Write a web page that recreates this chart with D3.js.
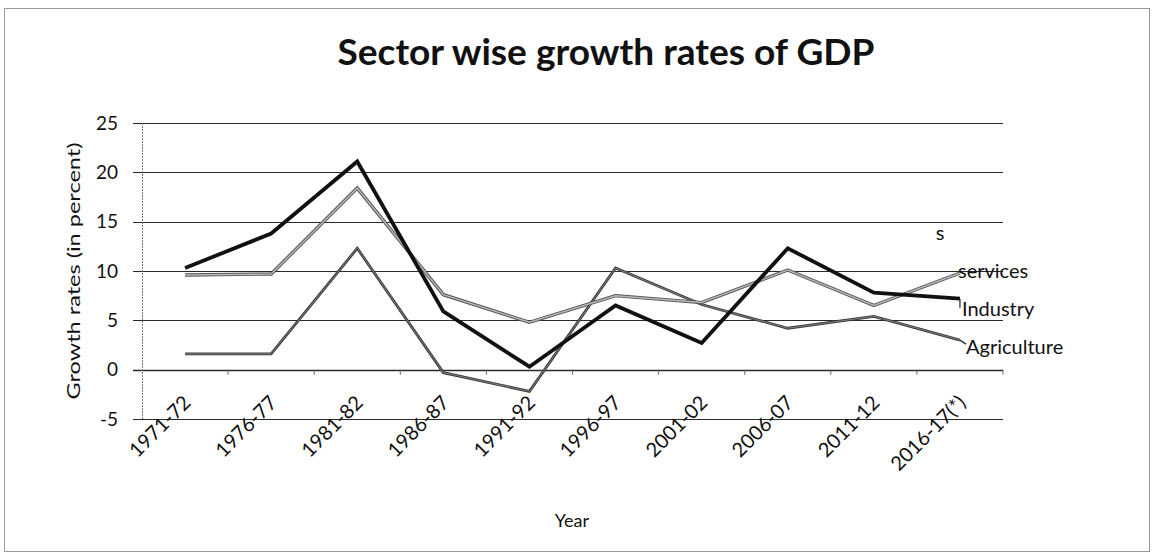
<!DOCTYPE html>
<html>
<head>
<meta charset="utf-8">
<script src="https://cdn.jsdelivr.net/npm/d3@7"></script>
<style>
  html, body { margin: 0; padding: 0; background: #fff; }
  svg { display: block; }
  text { font-family: Lato, "Open Sans", sans-serif; fill: #111; }
</style>
</head>
<body>
<svg id="chart" width="1154" height="554"></svg>
<script>
const categories = ["1971-72","1976-77","1981-82","1986-87","1991-92","1996-97","2001-02","2006-07","2011-12","2016-17(*)"];
const industry    = [10.3, 13.8, 21.1, 5.9, 0.3, 6.5, 2.7, 12.3, 7.8, 7.2];
const services    = [9.6, 9.7, 18.4, 7.6, 4.8, 7.5, 6.8, 10.1, 6.5, 9.8];
const agriculture = [1.6, 1.6, 12.3, -0.3, -2.2, 10.3, 6.6, 4.2, 5.4, 3.0];
const yTicks = [-5, 0, 5, 10, 15, 20, 25];
const seriesNames = ["services", "Industry", "Agriculture"];

const svg = d3.select("#chart");

// outer border
svg.append("rect").attr("x", 4.5).attr("y", 8.5).attr("width", 1145).attr("height", 543)
  .attr("fill", "none").attr("stroke", "#999").attr("stroke-width", 1);

const x = d3.scaleBand().domain(categories).range([142, 1003]).paddingInner(0).paddingOuter(0);
const y = d3.scaleLinear().domain([-5, 25]).range([419, 123]);
const cx = c => x(c) + x.bandwidth() / 2;

// title
svg.append("text").attr("x", 606).attr("y", 65).attr("text-anchor", "middle")
  .attr("font-size", 36).attr("font-weight", "bold")
  .attr("textLength", 537).attr("lengthAdjust", "spacingAndGlyphs")
  .text("Sector wise growth rates of GDP");

// gridlines
svg.append("g").selectAll("line").data(yTicks).join("line")
  .attr("x1", 133).attr("x2", 1003)
  .attr("y1", d => Math.round(y(d)) + 0.5).attr("y2", d => Math.round(y(d)) + 0.5)
  .attr("stroke", "#2a2a2a").attr("stroke-width", d => d === 0 ? 1.6 : 1);

// vertical axis line
svg.append("line").attr("x1", 142.5).attr("x2", 142.5).attr("y1", y(25)).attr("y2", y(-5))
  .attr("stroke", "#777").attr("stroke-width", 1).attr("stroke-dasharray", "2,1");

// y tick labels
svg.append("g").selectAll("text").data(yTicks).join("text")
  .attr("x", 118).attr("y", d => y(d)).attr("dy", "0.35em").attr("text-anchor", "end")
  .attr("font-size", 19).text(d => d);

// y title
svg.append("text").attr("transform", "translate(80,271) rotate(-90)")
  .attr("text-anchor", "middle").attr("font-size", 18)
  .attr("textLength", 257).attr("lengthAdjust", "spacingAndGlyphs")
  .text("Growth rates (in percent)");

// x category ticks on the zero line
const boundaries = categories.map(c => x(c)).concat([x(categories[categories.length - 1]) + x.bandwidth()]);
svg.append("g").selectAll("line").data(boundaries.slice(1)).join("line")
  .attr("x1", d => d).attr("x2", d => d).attr("y1", y(0)).attr("y2", y(0) + 5)
  .attr("stroke", "#666").attr("stroke-width", 1);

// x tick labels (rotated)
svg.append("g").selectAll("text").data(categories).join("text")
  .attr("transform", c => `translate(${cx(c) + 7},${404}) rotate(-45)`)
  .attr("text-anchor", "end").attr("font-size", 20)
  .text(c => c);

// x title
svg.append("text").attr("x", 572).attr("y", 527).attr("text-anchor", "middle")
  .attr("font-size", 18).text("Year");

const line = d3.line().x((d, i) => cx(categories[i])).y(d => y(d));

// agriculture
svg.append("path").datum(agriculture).attr("d", line).attr("fill", "none")
  .attr("stroke", "#3a3a3a").attr("stroke-width", 2.8).attr("stroke-linejoin", "miter");
svg.append("path").datum(agriculture).attr("d", line).attr("fill", "none")
  .attr("stroke", "#888").attr("stroke-width", 0.9);

// services
svg.append("path").datum(services).attr("d", line).attr("fill", "none")
  .attr("stroke", "#555").attr("stroke-width", 3.4);
svg.append("path").datum(services).attr("d", line).attr("fill", "none")
  .attr("stroke", "#b8b8b8").attr("stroke-width", 1.5);

// industry
svg.append("path").datum(industry).attr("d", line).attr("fill", "none")
  .attr("stroke", "#111").attr("stroke-width", 3.8).attr("stroke-linejoin", "miter");

// end labels
const lastX = cx(categories[categories.length - 1]);
const last = i => [services, industry, agriculture][i][categories.length - 1];
// leaders
svg.append("line").attr("x1", lastX).attr("x2", lastX)
  .attr("y1", y(last(1))).attr("y2", y(last(1)) + 9)
  .attr("stroke", "#222").attr("stroke-width", 1.2);
svg.append("line").attr("x1", lastX).attr("x2", lastX + 6)
  .attr("y1", y(last(2))).attr("y2", y(last(2)) + 4)
  .attr("stroke", "#333").attr("stroke-width", 1.5);

const labelPos = [[958, y(last(0)) - 2], [962, y(last(1)) + 10], [966, y(last(2)) + 7]];
svg.append("g").selectAll("text").data(seriesNames).join("text")
  .attr("x", (d, i) => labelPos[i][0]).attr("y", (d, i) => labelPos[i][1])
  .attr("dy", "0.35em").attr("font-size", 20).text(d => d);

// stray label
svg.append("text").attr("x", 940).attr("y", 233).attr("dy", "0.35em")
  .attr("text-anchor", "middle").attr("font-size", 20).text("s");
</script>
</body>
</html>
